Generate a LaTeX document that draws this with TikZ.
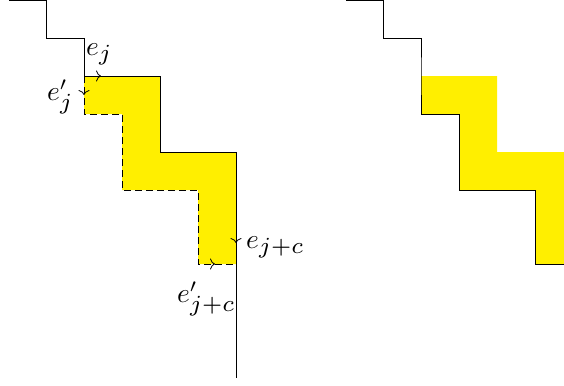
\documentclass[tikz,border=0pt]{standalone}
\usetikzlibrary{arrows.meta}
\definecolor{hilite}{RGB}{255,239,0}
\newcommand{\bigsub}[1]{\scalebox{1.2}{$\scriptstyle #1$}}
\begin{document}
\begin{tikzpicture}[x=1bp,y=-1bp,
  edge/.style={line width=0.8bp,black},
  dashededge/.style={line width=0.8bp,black,dash pattern=on 7bp off 4bp},
  tipmark/.style={line width=0.8bp,-{To[length=5bp,width=11bp]}},
  lab/.style={anchor=base west,inner sep=0pt}]
\useasboundingbox (0,0) rectangle (564,385);
\clip (0,0) rectangle (564,385);
% ---------- left picture ----------
\coordinate (L0) at (9,0);
\coordinate (L1) at (46,0);
\coordinate (L2) at (46,38);
\coordinate (L3) at (84,38);
\coordinate (A) at (84,76);
\coordinate (U1) at (160,76);
\coordinate (U2) at (160,152);
\coordinate (U3) at (236,152);
\coordinate (B) at (236,264);
\coordinate (Bend) at (236,378);
\coordinate (D1) at (84,114);
\coordinate (D2) at (122,114);
\coordinate (D3) at (122,190);
\coordinate (D4) at (198,190);
\coordinate (D5) at (198,264);
\fill[hilite] (A) -- (U1) -- (U2) -- (U3) -- (B) -- (D5) -- (D4) -- (D3) -- (D2) -- (D1) -- cycle;
\draw[edge] (L0) -- (L1) -- (L2) -- (L3) -- (A) -- (U1) -- (U2) -- (U3) -- (Bend);
\draw[dashededge] (A) -- (D1) -- (D2) -- (D3) -- (D4) -- (D5) -- (B);
% arrow marks
\coordinate (tj) at (101,76);
\coordinate (tjp) at (84,95);
\coordinate (tjc) at (236,243);
\coordinate (tjcp) at (215,264);
\draw[tipmark] ([xshift=-2bp]tj) -- (tj);
\draw[tipmark] ([yshift=2bp]tjp) -- (tjp);
\draw[tipmark] ([yshift=2bp]tjc) -- (tjc);
\draw[tipmark] ([xshift=-2bp]tjcp) -- (tjcp);
% labels
\node[lab] (lej) at (86,55) {\scalebox{2.75}{$e_{\bigsub{j}}$}};
\node[lab] (lejp) at (47,100) {\scalebox{2.75}{$e'_{\bigsub{j}}$}};
\node[lab] (lejc) at (246,248) {\scalebox{2.75}{$e_{\bigsub{j+c}}$}};
\node[lab] (lejcp) at (177,302) {\scalebox{2.75}{$e'_{\bigsub{j+c}}$}};
% ---------- right picture ----------
\coordinate (R0) at (346,0);
\coordinate (R1) at (383,0);
\coordinate (R2) at (383,38);
\coordinate (R3) at (421,38);
\coordinate (RA) at (421,76);
\coordinate (RU1) at (497,76);
\coordinate (RU2) at (497,152);
\coordinate (RU3) at (573,152);
\coordinate (RB) at (573,264);
\coordinate (RD1) at (421,114);
\coordinate (RD2) at (459,114);
\coordinate (RD3) at (459,190);
\coordinate (RD4) at (535,190);
\coordinate (RD5) at (535,264);
\fill[hilite] (RA) -- (RU1) -- (RU2) -- (RU3) -- (RB) -- (RD5) -- (RD4) -- (RD3) -- (RD2) -- (RD1) -- cycle;
\draw[edge] (R0) -- (R1) -- (R2) -- (R3) -- (RA) -- (RD1) -- (RD2) -- (RD3) -- (RD4) -- (RD5) -- (RB);
\end{tikzpicture}
\end{document}
